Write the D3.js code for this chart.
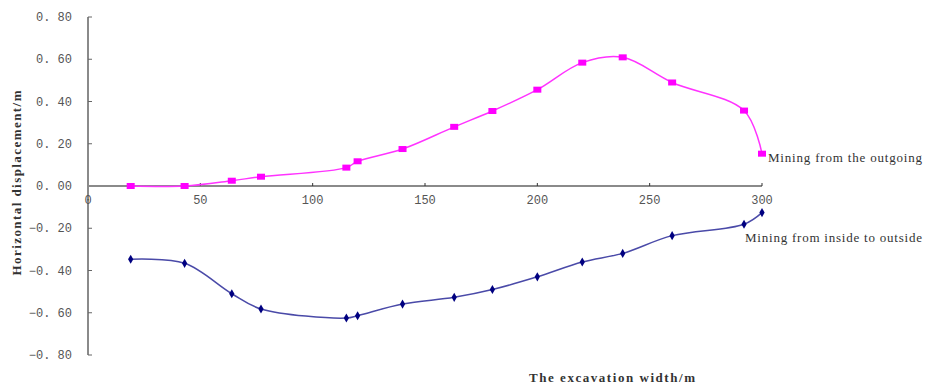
<!DOCTYPE html>
<html>
<head>
<meta charset="utf-8">
<script src="https://cdn.jsdelivr.net/npm/d3@7"></script>
<style>
  body { margin: 0; background: #fff; }
</style>
</head>
<body>
<div id="chart"></div>
<script>
const widths = [19, 43, 64, 77, 115, 120, 140, 163, 180, 200, 220, 238, 260, 292, 300];
const outgoing = [0, 0, 0.025, 0.044, 0.087, 0.117, 0.175, 0.28, 0.355, 0.456, 0.584, 0.609, 0.49, 0.357, 0.153];
const insideOut = [-0.347, -0.366, -0.51, -0.582, -0.625, -0.614, -0.559, -0.527, -0.49, -0.43, -0.36, -0.319, -0.235, -0.181, -0.126];
const xTicks = [0, 50, 100, 150, 200, 250, 300];
const yTicks = [0.8, 0.6, 0.4, 0.2, 0, -0.2, -0.4, -0.6, -0.8];

const W = 925, H = 387;
const svg = d3.select("#chart").append("svg")
    .attr("width", W)
    .attr("height", H);

const x = d3.scaleLinear().domain([0, 300]).range([88, 762]);
const y = d3.scaleLinear().domain([-0.8, 0.8]).range([355, 17]);

const fmt = v => {
    const s = d3.format(".2f")(Math.abs(v)).replace(".", ". ");
    return (v < 0 ? "\u2212" : "") + s;
};

// y axis
svg.append("line")
    .attr("x1", x(0)).attr("x2", x(0))
    .attr("y1", y(0.8)).attr("y2", y(-0.8))
    .attr("stroke", "#8a8a8a").attr("stroke-width", 2);

svg.selectAll(".ytick")
    .data(yTicks)
    .enter().append("line")
    .attr("x1", x(0)).attr("x2", x(0) + 4)
    .attr("y1", d => y(d)).attr("y2", d => y(d))
    .attr("stroke", "#666").attr("stroke-width", 1);

svg.selectAll(".ylab")
    .data(yTicks)
    .enter().append("text")
    .attr("x", 72)
    .attr("y", d => y(d))
    .attr("dy", "0.35em")
    .attr("text-anchor", "end")
    .attr("fill", "#555")
    .style("font-family", "Liberation Mono")
    .style("font-size", "12px")
    .text(fmt);

// x axis at zero
svg.append("line")
    .attr("x1", x(0)).attr("x2", x(300))
    .attr("y1", y(0)).attr("y2", y(0))
    .attr("stroke", "#8a8a8a").attr("stroke-width", 2);

svg.selectAll(".xtick")
    .data(xTicks.slice(1))
    .enter().append("line")
    .attr("x1", d => x(d)).attr("x2", d => x(d))
    .attr("y1", y(0) - 3).attr("y2", y(0))
    .attr("stroke", "#333").attr("stroke-width", 1);

svg.selectAll(".xlab")
    .data(xTicks)
    .enter().append("text")
    .attr("x", d => x(d))
    .attr("y", y(0) + 14)
    .attr("dy", "0.35em")
    .attr("text-anchor", "middle")
    .attr("fill", "#555")
    .style("font-family", "Liberation Mono")
    .style("font-size", "12px")
    .text(d => d);

// lines
const line = vals => d3.line()
    .x((d, i) => x(widths[i]))
    .y(d => y(d))
    .curve(d3.curveCatmullRom.alpha(0.5))(vals);

svg.append("path")
    .attr("d", line(insideOut))
    .attr("fill", "none")
    .attr("stroke", "#4a4aa8")
    .attr("stroke-width", 1.5);

svg.append("path")
    .attr("d", line(outgoing))
    .attr("fill", "none")
    .attr("stroke", "#ff33ff")
    .attr("stroke-width", 1.5);

// markers
svg.selectAll(".sq")
    .data(outgoing)
    .enter().append("rect")
    .attr("x", (d, i) => x(widths[i]) - 4)
    .attr("y", d => y(d) - 3)
    .attr("width", 8)
    .attr("height", 6)
    .attr("fill", "#ff00ff");

svg.selectAll(".dm")
    .data(insideOut)
    .enter().append("path")
    .attr("d", d3.symbol().type(d3.symbolDiamond).size(24))
    .attr("transform", (d, i) => `translate(${x(widths[i])},${y(d)})`)
    .attr("fill", "#000080");

// series labels
svg.append("text")
    .attr("x", 768).attr("y", 157)
    .attr("dy", "0.35em")
    .attr("fill", "#333")
    .attr("textLength", 154)
    .style("font-family", "Liberation Serif")
    .style("font-size", "13px")
    .text("Mining from the outgoing");

svg.append("text")
    .attr("x", 745).attr("y", 237)
    .attr("dy", "0.35em")
    .attr("fill", "#333")
    .attr("textLength", 177)
    .style("font-family", "Liberation Serif")
    .style("font-size", "13px")
    .text("Mining from inside to outside");

// axis titles
svg.append("text")
    .attr("transform", "translate(16,183) rotate(-90)")
    .attr("text-anchor", "middle")
    .attr("dy", "0.35em")
    .attr("fill", "#333")
    .attr("textLength", 185)
    .style("font-family", "Liberation Serif")
    .style("font-weight", "bold")
    .style("font-size", "13px")
    .text("Horizontal displacement/m");

svg.append("text")
    .attr("x", 612).attr("y", 377)
    .attr("text-anchor", "middle")
    .attr("dy", "0.35em")
    .attr("fill", "#333")
    .attr("textLength", 166)
    .style("font-family", "Liberation Serif")
    .style("font-weight", "bold")
    .style("font-size", "13px")
    .text("The excavation width/m");
</script>
</body>
</html>
